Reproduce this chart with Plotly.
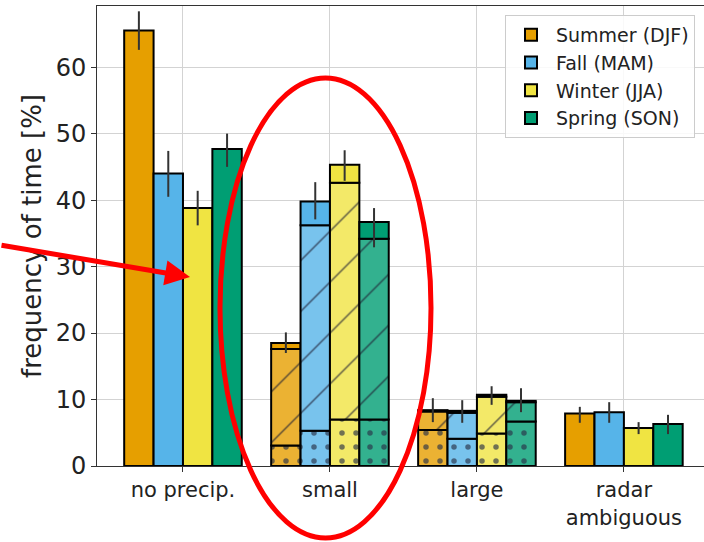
import math
import plotly.graph_objects as go

categories = ["no precip.", "small", "large", "radar<br>ambiguous"]
seasons = ["Summer (DJF)", "Fall (MAM)", "Winter (JJA)", "Spring (SON)"]
colors = ["#E69F00", "#56B4E9", "#F0E442", "#009E73"]
light_colors = ["#EBB233", "#78C3ED", "#F3E968", "#33B18F"]

# total frequency per season and category
totals = {
    "Summer (DJF)": [65.5, 18.5, 8.4, 7.9],
    "Fall (MAM)": [44.0, 39.8, 8.3, 8.1],
    "Winter (JJA)": [38.8, 45.3, 10.7, 5.7],
    "Spring (SON)": [47.7, 36.7, 9.8, 6.3],
}
# precip sub-categories (only "small" and "large"): dotted bottom part
precip_cats = ["small", "large"]
dotted = {
    "Summer (DJF)": [3.1, 5.4],
    "Fall (MAM)": [5.3, 4.1],
    "Winter (JJA)": [7.0, 4.9],
    "Spring (SON)": [7.0, 6.7],
}
# upper edge of the hatched part
hatched_top = {
    "Summer (DJF)": [17.6, 8.2],
    "Fall (MAM)": [36.2, 8.0],
    "Winter (JJA)": [42.6, 10.4],
    "Spring (SON)": [34.2, 9.6],
}
# error bar ends
err_upper = {
    "Summer (DJF)": [68.4, 20.1, 10.2, 8.9],
    "Fall (MAM)": [47.4, 42.7, 9.9, 9.6],
    "Winter (JJA)": [41.4, 47.5, 12.0, 6.6],
    "Spring (SON)": [50.0, 38.8, 11.7, 7.7],
}
err_lower = {
    "Summer (DJF)": [62.6, 17.0, 6.6, 6.5],
    "Fall (MAM)": [40.5, 37.1, 6.5, 6.5],
    "Winter (JJA)": [36.2, 42.9, 9.2, 4.8],
    "Spring (SON)": [45.0, 32.9, 8.1, 4.8],
}

W, H = 704, 542
ML, MR, MT, MB = 97, 0, 6, 76
PW, PH = W - ML - MR, H - MT - MB

fig = go.Figure()
edge = dict(color="black", width=2)
for i, s in enumerate(seasons):
    # dotted part
    fig.add_trace(go.Bar(
        x=precip_cats, y=dotted[s], offsetgroup=str(i), showlegend=False,
        marker=dict(color=light_colors[i], line=edge,
                    pattern=dict(shape=".", size=14, solidity=0.12,
                                 fgcolor="rgba(40,50,70,0.65)", bgcolor=light_colors[i],
                                 fillmode="replace")),
        hoverinfo="skip"))
    # hatched part
    fig.add_trace(go.Bar(
        x=precip_cats, y=[h - d for h, d in zip(hatched_top[s], dotted[s])],
        base=dotted[s], offsetgroup=str(i), showlegend=False,
        marker=dict(color=light_colors[i], line=edge,
                    pattern=dict(shape="/", size=36, solidity=0.04,
                                 fgcolor="rgba(30,30,50,0.7)", bgcolor=light_colors[i],
                                 fillmode="replace")),
        hoverinfo="skip"))
    # solid (top) part with error bars on total
    base = []
    for c in categories:
        if c in precip_cats:
            base.append(hatched_top[s][precip_cats.index(c)])
        else:
            base.append(0)
    tot = totals[s]
    fig.add_trace(go.Bar(
        x=categories, y=[t - b for t, b in zip(tot, base)], base=base,
        offsetgroup=str(i), name=s,
        marker=dict(color=colors[i], line=edge),
        error_y=dict(type="data", symmetric=False,
                     array=[u - t for u, t in zip(err_upper[s], tot)],
                     arrayminus=[t - l for l, t in zip(err_lower[s], tot)],
                     color="#333333", thickness=2, width=0),
    ))

fig.update_layout(
    width=W, height=H,
    margin=dict(l=ML, r=MR, t=MT, b=MB, pad=0),
    barmode="group", bargap=0.2, bargroupgap=0,
    plot_bgcolor="white", paper_bgcolor="white",
    font=dict(family="DejaVu Sans", color="#222222"),
    legend=dict(x=(695 - ML) / PW, xanchor="right", y=(H - MB - 15) / PH, yanchor="top",
                bgcolor="rgba(255,255,255,0.85)", bordercolor="#cccccc", borderwidth=1,
                font=dict(size=19, family="DejaVu Sans", color="#222222"),
                itemwidth=40, tracegroupgap=2),
    showlegend=True,
)
fig.update_xaxes(
    range=[-0.585, 3.545], showline=True, linecolor="#333333", linewidth=1, mirror=True,
    ticks="outside", ticklen=5, tickcolor="#333333",
    showgrid=True, gridcolor="#d3d3d3", gridwidth=1,
    tickfont=dict(size=21, family="DejaVu Sans", color="#222222"),
    categoryorder="array", categoryarray=categories,
)
fig.update_yaxes(
    range=[0, 69.2], showline=True, linecolor="#333333", linewidth=1, mirror=False,
    ticks="outside", ticklen=5, tickcolor="#333333",
    tickvals=[0, 10, 20, 30, 40, 50, 60],
    showgrid=True, gridcolor="#d3d3d3", gridwidth=1, zeroline=False,
    tickfont=dict(size=24, family="DejaVu Sans", color="#222222"),
    title=dict(text="frequency of time [%]", font=dict(size=26, family="DejaVu Sans", color="#222222"),
               standoff=6),
)

def px_to_paper(px, py):
    return (px - ML) / PW, (H - MB - py) / PH

# red annotation: arrow
tipx, tipy = px_to_paper(190, 277)
fig.add_annotation(x=tipx, y=tipy, xref="paper", yref="paper",
                   ax=-200, ay=-32, axref="pixel", ayref="pixel",
                   showarrow=True, arrowhead=2, arrowsize=1.0, arrowwidth=5,
                   arrowcolor="#FF0000", standoff=0, text="")

# red annotation: ellipse around the "small" group
x0, y0 = px_to_paper(220, 538)
x1, y1 = px_to_paper(431, 78)
fig.add_shape(type="circle", x0=x0, x1=x1, y0=y0, y1=y1, xref="paper", yref="paper",
              line=dict(color="#FF0000", width=5), layer="above")

fig.write_html("out.html")
